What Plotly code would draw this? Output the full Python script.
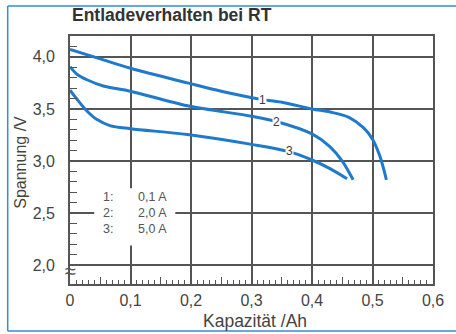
import plotly.graph_objects as go

# ---- data ----
cap_1 = [0.0, 0.05, 0.10, 0.194, 0.25, 0.318, 0.354, 0.40, 0.43, 0.461, 0.485, 0.50, 0.512, 0.523]
volt_1 = [4.07, 3.98, 3.89, 3.75, 3.67, 3.59, 3.56, 3.50, 3.47, 3.42, 3.32, 3.21, 3.05, 2.82]

cap_2 = [0.0, 0.012, 0.028, 0.055, 0.10, 0.194, 0.30, 0.341, 0.40, 0.429, 0.45, 0.468]
volt_2 = [3.905, 3.83, 3.78, 3.72, 3.67, 3.53, 3.43, 3.38, 3.26, 3.14, 3.00, 2.82]

cap_3 = [0.0, 0.012, 0.028, 0.044, 0.066, 0.10, 0.194, 0.30, 0.362, 0.40, 0.429, 0.458]
volt_3 = [3.68, 3.59, 3.48, 3.40, 3.34, 3.31, 3.255, 3.16, 3.09, 3.01, 2.93, 2.83]

curve_names = ["1", "2", "3"]
label_pos_x = [0.318, 0.341, 0.362]
label_pos_y = [3.585, 3.375, 3.095]

legend_keys = ["1:", "2:", "3:"]
legend_currents = ["0,1 A", "2,0 A", "5,0 A"]
legend_rows_y = [2.652, 2.5, 2.348]

x_tickvals = [0.0, 0.1, 0.2, 0.3, 0.4, 0.5, 0.6]
x_ticktext = ["0", "0,1", "0,2", "0,3", "0,4", "0,5", "0,6"]
x_half_ticks = [0.05, 0.15, 0.25, 0.35, 0.45, 0.55]
y_tickvals = [2.0, 2.5, 3.0, 3.5, 4.0]
y_ticktext = ["2,0", "2,5", "3,0", "3,5", "4,0"]
y_minor_ticks = [round(2.0 + 0.1 * i, 1) for i in range(22)]

title_text = "Entladeverhalten bei RT"
x_title = "Kapazität /Ah"
y_title = "Spannung /V"

# ---- styles ----
FONT = "Liberation Sans, Arial, sans-serif"
BLUE = "#1f7acb"
GRID = "#555555"
TXT = "#3a3a3a"
FRAME = "#3a8ad4"

fig = go.Figure()
for cx, cy in [(cap_1, volt_1), (cap_2, volt_2), (cap_3, volt_3)]:
    fig.add_trace(go.Scatter(x=cx, y=cy, mode="lines",
                             line=dict(color=BLUE, width=3, shape="spline", smoothing=0.9),
                             showlegend=False, hoverinfo="skip"))

# dummy trace to activate the overlay axis for 0.05 ticks
fig.add_trace(go.Scatter(x=[0.3], y=[3.0], xaxis="x2", yaxis="y", mode="markers",
                         marker=dict(opacity=0), showlegend=False, hoverinfo="skip"))

annotations = []
for name, lx, ly in zip(curve_names, label_pos_x, label_pos_y):
    annotations.append(dict(x=lx, y=ly, xref="x", yref="y", text=name, showarrow=False,
                            font=dict(family=FONT, size=12, color=TXT),
                            bgcolor="white", borderpad=0))
for key, cur, ry in zip(legend_keys, legend_currents, legend_rows_y):
    annotations.append(dict(x=0.051, y=ry, xref="x", yref="y", text=key, showarrow=False,
                            xanchor="left", font=dict(family=FONT, size=12.5, color="#555")))
    annotations.append(dict(x=0.109, y=ry, xref="x", yref="y", text=cur, showarrow=False,
                            xanchor="left", font=dict(family=FONT, size=12.5, color="#555")))

annotations.append(dict(x=0.0, y=1.085, xref="paper", yref="paper", text="<b>" + title_text + "</b>",
                        showarrow=False, xanchor="left", yanchor="middle",
                        font=dict(family=FONT, size=17.5, color="#333")))
annotations.append(dict(x=0.509, y=-0.15, xref="paper", yref="paper", text=x_title,
                        showarrow=False, xanchor="center", yanchor="middle",
                        font=dict(family=FONT, size=17.5, color="#444")))
annotations.append(dict(x=-0.137, y=0.49, xref="paper", yref="paper", text=y_title,
                        showarrow=False, textangle=-90, xanchor="center", yanchor="middle",
                        font=dict(family=FONT, size=16, color="#444")))
# axis break mark
annotations.append(dict(x=0.0, y=1.945, xref="x", yref="y", text="≈", showarrow=False,
                        xanchor="center", yanchor="middle",
                        font=dict(family=FONT, size=20, color="#555"), bgcolor="rgba(0,0,0,0)"))

shapes = [
    # white box behind legend text
    dict(type="rect", xref="x", yref="y", x0=0.04, x1=0.174, y0=2.19, y1=2.74,
         fillcolor="white", line=dict(width=0), layer="between"),
    # outer blue frame (left, top, bottom; open to the right)
    dict(type="line", xref="paper", yref="paper", x0=-0.1716, x1=-0.1716, y0=-0.1895, y1=1.121,
         line=dict(color=FRAME, width=1.5), layer="below"),
    dict(type="line", xref="paper", yref="paper", x0=-0.1716, x1=1.2, y0=1.121, y1=1.121,
         line=dict(color=FRAME, width=1.5), layer="below"),
    dict(type="line", xref="paper", yref="paper", x0=-0.1716, x1=1.2, y0=-0.1895, y1=-0.1895,
         line=dict(color=FRAME, width=1.5), layer="below"),
]

fig.update_layout(
    width=456, height=334,
    margin=dict(l=70, r=13, t=36, b=50),
    paper_bgcolor="white", plot_bgcolor="white",
    showlegend=False,
    annotations=annotations, shapes=shapes,
    xaxis=dict(range=[0, 0.6], tickvals=x_tickvals, ticktext=x_ticktext,
               showgrid=True, gridcolor=GRID, gridwidth=1.5,
               showline=True, linecolor=GRID, linewidth=1.8, mirror=True,
               ticks="inside", ticklen=7, tickcolor=GRID, tickwidth=1.2,
               ticklabelstandoff=1,
               tickfont=dict(family=FONT, size=16, color="#444"),
               minor=dict(dtick=0.01, tick0=0, ticks="inside", ticklen=4,
                          tickcolor=GRID, tickwidth=1.2, showgrid=False),
               zeroline=False, fixedrange=True),
    xaxis2=dict(range=[0, 0.6], overlaying="x", anchor="y", side="bottom",
                tickvals=x_half_ticks, showticklabels=False,
                ticks="inside", ticklen=7, tickcolor=GRID, tickwidth=1.2,
                showgrid=False, showline=False, zeroline=False),
    yaxis=dict(range=[1.82, 4.2], tickvals=y_tickvals, ticktext=y_ticktext,
               showgrid=True, gridcolor=GRID, gridwidth=1.5,
               showline=True, linecolor=GRID, linewidth=1.8, mirror=True,
               ticks="inside", ticklen=7, tickcolor=GRID, tickwidth=1.2,
               ticklabelstandoff=10,
               tickfont=dict(family=FONT, size=16, color="#444"),
               minor=dict(tickmode="array", tickvals=y_minor_ticks, ticks="inside", ticklen=7,
                          tickcolor=GRID, tickwidth=1.2, showgrid=False),
               zeroline=False, fixedrange=True),
)

fig.write_html("out.html")
